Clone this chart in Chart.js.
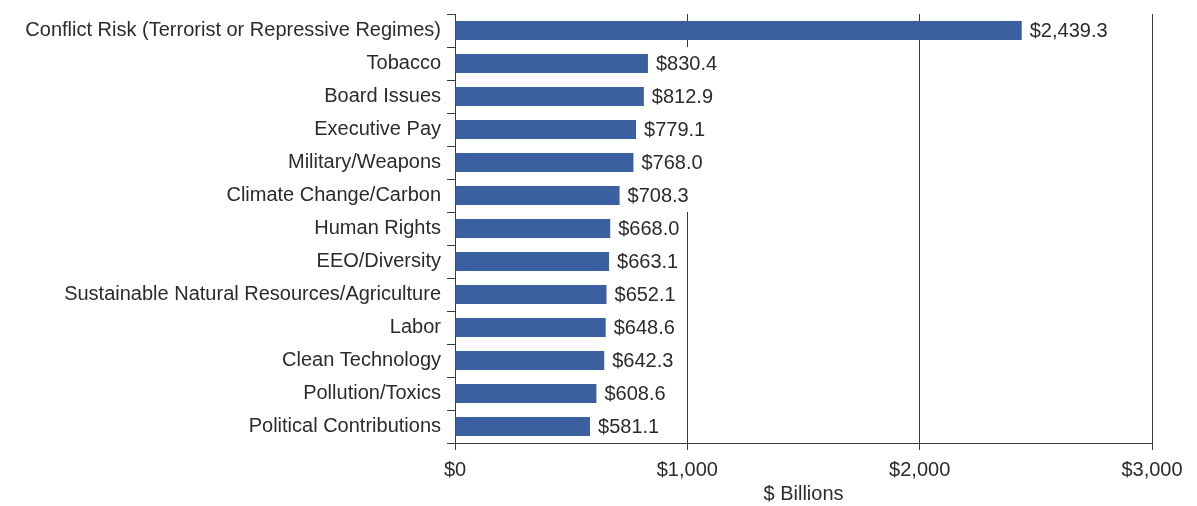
<!DOCTYPE html>
<html>
<head>
<meta charset="utf-8">
<script src="https://cdn.jsdelivr.net/npm/chart.js@4/dist/chart.umd.min.js"></script>
<style>
  html, body { margin: 0; padding: 0; background: #ffffff; }
  #wrap { width: 1197px; height: 506px; position: relative; }
</style>
</head>
<body>
<div id="wrap"><canvas id="chart" width="1197" height="506"></canvas></div>
<script>
// Assets by ESG issue, $ billions
const issues = [
  'Conflict Risk (Terrorist or Repressive Regimes)',
  'Tobacco',
  'Board Issues',
  'Executive Pay',
  'Military/Weapons',
  'Climate Change/Carbon',
  'Human Rights',
  'EEO/Diversity',
  'Sustainable Natural Resources/Agriculture',
  'Labor',
  'Clean Technology',
  'Pollution/Toxics',
  'Political Contributions'
];
const assets = [2439.3, 830.4, 812.9, 779.1, 768.0, 708.3, 668.0, 663.1, 652.1, 648.6, 642.3, 608.6, 581.1];
const xTicks = [0, 1000, 2000, 3000];

const FONT = '"Liberation Sans", Arial, Helvetica, sans-serif';
const TEXT = '#2b2b2b';
const LINE = '#3a3a3a';
const BAR = '#3a60a0';

const money = v => '$' + v.toLocaleString('en-US', { minimumFractionDigits: 1, maximumFractionDigits: 1 });

// Value labels at the end of each bar, on a white box
const valueLabels = {
  id: 'valueLabels',
  afterDatasetsDraw(chart) {
    const ctx = chart.ctx;
    const meta = chart.getDatasetMeta(0);
    const yScale = chart.scales.y;
    const rowH = (yScale.bottom - yScale.top) / issues.length;
    ctx.save();
    ctx.font = '20px ' + FONT;
    ctx.textBaseline = 'middle';
    ctx.textAlign = 'left';
    meta.data.forEach((bar, i) => {
      const text = money(assets[i]);
      const w = ctx.measureText(text).width;
      const x = bar.x + 8;
      ctx.fillStyle = '#ffffff';
      ctx.fillRect(x - 3, bar.y - rowH / 2, w + 7, rowH);
      ctx.fillStyle = TEXT;
      ctx.fillText(text, x, bar.y + 1);
    });
    ctx.restore();
  }
};

new Chart(document.getElementById('chart'), {
  type: 'bar',
  data: {
    labels: issues,
    datasets: [{
      data: assets,
      backgroundColor: BAR,
      borderWidth: 0,
      categoryPercentage: 1,
      barPercentage: 0.58
    }]
  },
  options: {
    indexAxis: 'y',
    responsive: false,
    animation: false,
    events: [],
    layout: { padding: { top: 14, right: 45, bottom: 0, left: 0 } },
    plugins: {
      legend: { display: false },
      tooltip: { enabled: false }
    },
    scales: {
      x: {
        min: 0,
        max: 3000,
        afterBuildTicks(scale) { scale.ticks = xTicks.map(v => ({ value: v })); },
        afterFit(scale) { scale.height = 63; },
        ticks: {
          color: TEXT,
          font: { family: FONT, size: 20 },
          padding: 8,
          maxRotation: 0,
          callback: v => '$' + Number(v).toLocaleString('en-US')
        },
        grid: { color: LINE, lineWidth: 1, tickLength: 7, drawOnChartArea: true },
        border: { display: true, color: LINE, width: 1 },
        title: {
          display: true,
          text: '$ Billions',
          color: TEXT,
          font: { family: FONT, size: 20 },
          padding: { top: 0, bottom: 0 }
        }
      },
      y: {
        afterFit(scale) {
          scale.width = 455;
          scale.paddingTop = 0;
          scale.paddingBottom = 0;
        },
        ticks: {
          color: TEXT,
          font: { family: FONT, size: 20 },
          padding: 6,
          autoSkip: false
        },
        grid: { offset: true, drawOnChartArea: false, color: LINE, tickLength: 8 },
        border: { display: true, color: LINE, width: 1 }
      }
    }
  },
  plugins: [valueLabels]
});
</script>
</body>
</html>
